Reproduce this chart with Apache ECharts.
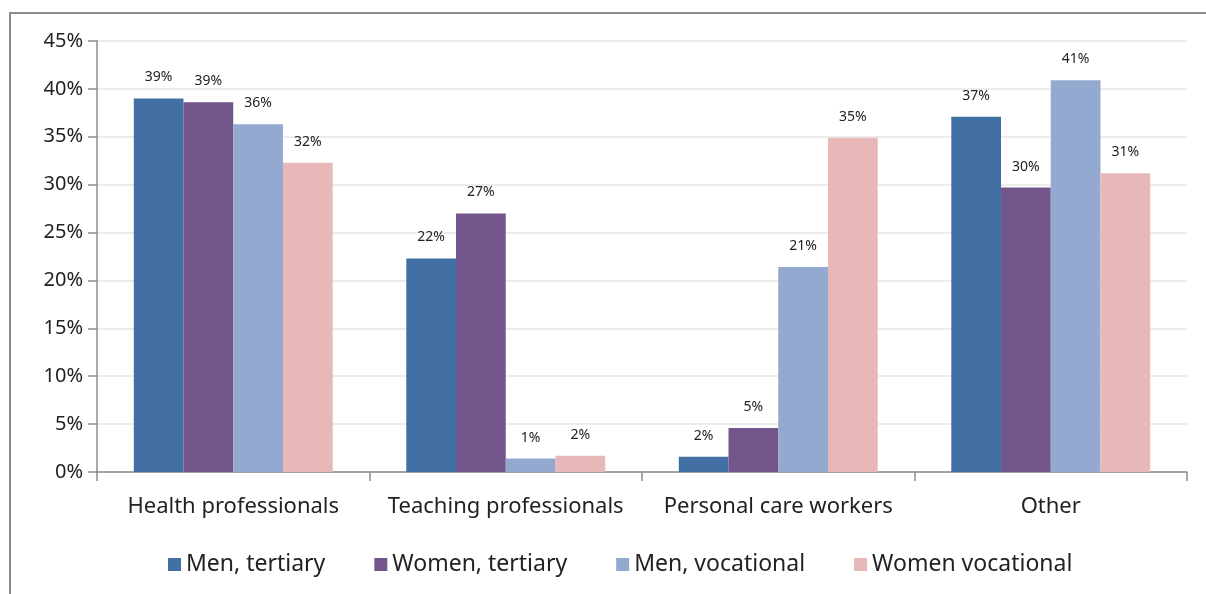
<!DOCTYPE html>
<html>
<head>
<meta charset="utf-8">
<script src="https://cdn.jsdelivr.net/npm/echarts@6/dist/echarts.min.js"></script>
<style>
html, body { margin: 0; padding: 0; background: #fff; overflow: hidden; }
#frame { position: absolute; left: 9px; top: 12px; width: 1210px; height: 600px; border-left: 2px solid #8c8c8c; border-top: 2px solid #8c8c8c; box-sizing: border-box; }
#main { position: absolute; left: 0; top: 0; width: 1206px; height: 594px; }
</style>
</head>
<body>
<div id="frame"></div>
<div id="main"></div>
<script>
// 类别和数据
var categories = ['Health professionals', 'Teaching professionals', 'Personal care workers', 'Other'];
var menTertiary = [39.0, 22.3, 1.6, 37.1];
var womenTertiary = [38.6, 27.0, 4.6, 29.7];
var menVocational = [36.3, 1.4, 21.4, 40.9];
var womenVocational = [32.3, 1.7, 34.9, 31.2];

var textFont = 'Noto Sans';

var myChart = echarts.init(document.getElementById('main'));

function barSeries(name, data, color) {
    return {
        name: name,
        type: 'bar',
        data: data,
        barGap: '0%',
        barCategoryGap: '27%',
        itemStyle: { color: color },
        label: {
            show: true,
            position: 'top',
            distance: 14,
            color: '#222',
            fontSize: 14,
            fontFamily: textFont,
            formatter: function(p) { return Math.round(p.value) + '%'; }
        }
    };
}

var option = {
    backgroundColor: 'transparent',
    animation: false,
    //图表位置
    grid: {
        left: 97,
        right: 19,
        top: 41,
        bottom: 122
    },
    legend: {
        top: 548,
        left: 163,
        itemWidth: 13,
        itemHeight: 13,
        itemGap: 49,
        icon: 'rect',
        textStyle: { fontSize: 23, color: '#222', fontFamily: textFont },
        data: ['Men, tertiary', 'Women, tertiary', 'Men, vocational', 'Women vocational']
    },
    xAxis: {
        type: 'category',
        data: categories,
        axisLine: { lineStyle: { color: '#8c8c8c', width: 1.5 } },
        axisTick: { show: true, length: 9, lineStyle: { color: '#8c8c8c', width: 1.5 } },
        axisLabel: { interval: 0, fontSize: 22, color: '#222', fontFamily: textFont, margin: 24 }
    },
    yAxis: {
        type: 'value',
        min: 0,
        max: 45,
        interval: 5,
        axisLine: { show: true, lineStyle: { color: '#8c8c8c', width: 1.5 } },
        axisTick: { show: true, length: 9, lineStyle: { color: '#8c8c8c', width: 1.5 } },
        axisLabel: { formatter: '{value}%', fontSize: 20, color: '#222', fontFamily: textFont, margin: 14 },
        splitLine: { lineStyle: { color: '#e6e6e6', width: 1.5 } }
    },
    series: [
        barSeries('Men, tertiary', menTertiary, '#4370a4'),
        barSeries('Women, tertiary', womenTertiary, '#72558b'),
        barSeries('Men, vocational', menVocational, '#94a9cf'),
        barSeries('Women vocational', womenVocational, '#e8b8b8')
    ]
};

myChart.setOption(option);
</script>
</body>
</html>
